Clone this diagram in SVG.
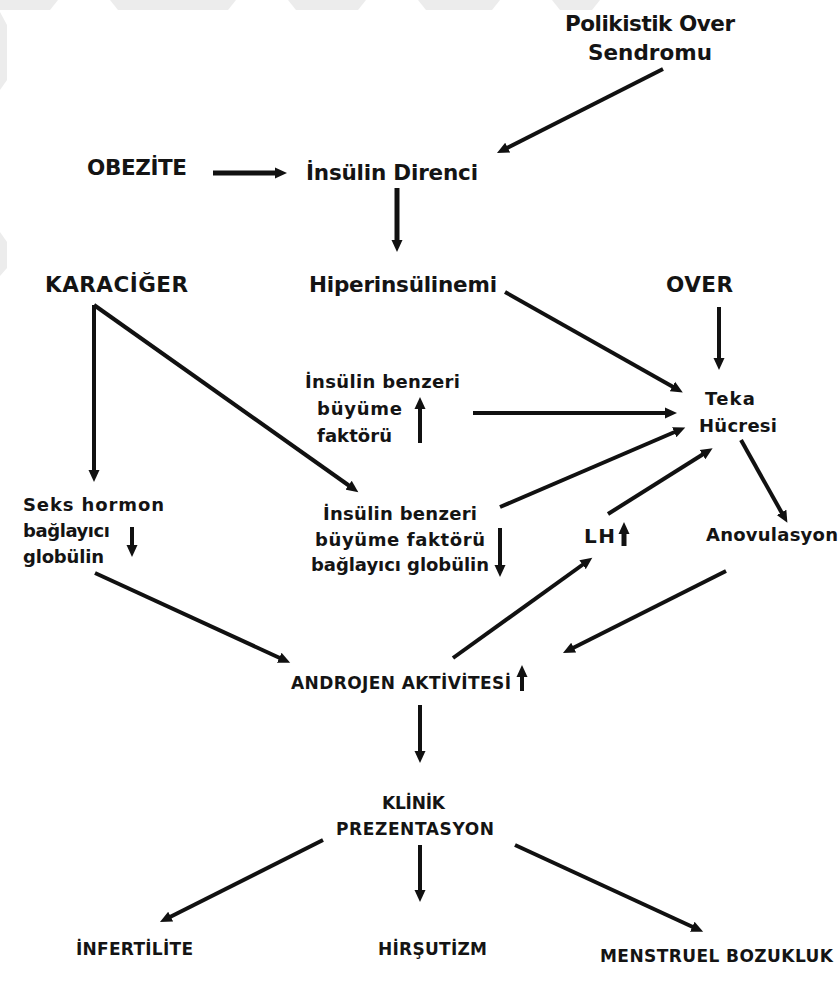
<svg xmlns="http://www.w3.org/2000/svg" width="838" height="1000" viewBox="0 0 838 1000">
<style>
text{font-family:"DejaVu Sans","Liberation Sans",Arial,sans-serif;font-weight:bold;fill:#141414}
.lg{font-size:21.5px}
.md{font-size:18px}
.sm{font-size:17px}
.wm{fill:#ececec}
line.c{stroke:#111;stroke-width:4;marker-end:url(#ah)}
</style>
<defs>
<marker id="ah" markerUnits="userSpaceOnUse" markerWidth="14" markerHeight="12" refX="3" refY="6" orient="auto">
<path d="M0,0.5 L12,6 L0,11.5 z" fill="#111"/>
</marker>
</defs>
<rect width="838" height="1000" fill="#fff"/>
<g id="watermark">
<polygon class="wm" points="0,0 58,0 50,10 0,10"/>
<polygon class="wm" points="110,0 236,0 228,10 118,10"/>
<polygon class="wm" points="288,0 366,0 358,10 296,10"/>
<polygon class="wm" points="418,0 500,0 492,10 426,10"/>
<polygon class="wm" points="552,0 600,0 592,10 560,10"/>
<polygon class="wm" points="0,12 7,25 7,80 0,90"/>
<polygon class="wm" points="0,232 7,242 7,268 0,276"/>
</g>
<g id="connectors">
<line class="c" x1="663" y1="69" x2="505" y2="149"/>
<line class="c" x1="213" y1="173" x2="278" y2="173" style="stroke-width:5"/>
<line class="c" x1="397" y1="188" x2="397" y2="243" style="stroke-width:5"/>
<line class="c" x1="505" y1="292" x2="675" y2="388"/>
<line class="c" x1="719" y1="307" x2="719" y2="361"/>
<line class="c" x1="473" y1="413" x2="668" y2="413"/>
<line class="c" x1="500" y1="507" x2="677" y2="431"/>
<line class="c" x1="608" y1="514" x2="705" y2="453"/>
<line class="c" x1="741" y1="440" x2="783" y2="515"/>
<line class="c" x1="94" y1="305" x2="94" y2="473"/>
<line class="c" x1="94" y1="305" x2="351" y2="487"/>
<line class="c" x1="95" y1="573" x2="282" y2="659"/>
<line class="c" x1="453" y1="658" x2="585" y2="563"/>
<line class="c" x1="726" y1="571" x2="571" y2="649"/>
<line class="c" x1="420" y1="705" x2="420" y2="754"/>
<line class="c" x1="323" y1="840" x2="168" y2="918"/>
<line class="c" x1="420" y1="845" x2="420" y2="893"/>
<line class="c" x1="515" y1="845" x2="695" y2="928"/>
</g>
<g id="n-pcos">
<text class="lg" x="565" y="31" textLength="170">Polikistik Over</text>
<text class="lg" x="588" y="60" textLength="124">Sendromu</text>
</g>
<g id="n-obezite"><text class="lg" x="87" y="175" textLength="100">OBEZİTE</text></g>
<g id="n-insulin-direnci"><text class="lg" x="306" y="180" textLength="172">İnsülin Direnci</text></g>
<g id="n-karaciger"><text class="lg" x="45" y="292" textLength="143">KARACİĞER</text></g>
<g id="n-hiperinsulinemi"><text class="lg" x="309" y="292" textLength="188">Hiperinsülinemi</text></g>
<g id="n-over"><text class="lg" x="666" y="292" textLength="67">OVER</text></g>
<g id="n-igf">
<text class="md" x="305" y="388" textLength="155">İnsülin benzeri</text>
<text class="md" x="317" y="415" textLength="85">büyüme</text>
<text class="md" x="317" y="442" textLength="75">faktörü</text>
<line class="c" x1="420" y1="443" x2="420" y2="406"/>
</g>
<g id="n-teka">
<text class="md" x="705" y="405" textLength="50">Teka</text>
<text class="md" x="699" y="432" textLength="78">Hücresi</text>
</g>
<g id="n-shbg">
<text class="md" x="23" y="511" textLength="141">Seks hormon</text>
<text class="md" x="23" y="537" textLength="87">bağlayıcı</text>
<text class="md" x="23" y="563" textLength="81">globülin</text>
<line class="c" x1="132" y1="527" x2="132" y2="548"/>
</g>
<g id="n-igfbp">
<text class="md" x="323" y="520" textLength="154">İnsülin benzeri</text>
<text class="md" x="315" y="546" textLength="170">büyüme faktörü</text>
<text class="md" x="311" y="571" textLength="178">bağlayıcı globülin</text>
<line class="c" x1="500" y1="528" x2="500" y2="568"/>
</g>
<g id="n-lh">
<text class="lg" x="584" y="543" textLength="31" style="font-size:20px">LH</text>
<line class="c" x1="624" y1="546" x2="624" y2="531" style="stroke-width:5"/>
</g>
<g id="n-anovulasyon"><text class="md" x="706" y="541" textLength="132">Anovulasyon</text></g>
<g id="n-androjen">
<text class="sm" x="291" y="689" textLength="220">ANDROJEN AKTİVİTESİ</text>
<line class="c" x1="522" y1="691" x2="522" y2="674"/>
</g>
<g id="n-klinik">
<text class="sm" x="382" y="809" textLength="63">KLİNİK</text>
<text class="sm" x="336" y="835" textLength="158">PREZENTASYON</text>
</g>
<g id="n-infertilite"><text class="sm" x="76" y="955" textLength="117">İNFERTİLİTE</text></g>
<g id="n-hirsutizm"><text class="sm" x="378" y="955" textLength="109">HİRŞUTİZM</text></g>
<g id="n-menstruel"><text class="sm" x="600" y="962" textLength="233">MENSTRUEL BOZUKLUK</text></g>
</svg>
